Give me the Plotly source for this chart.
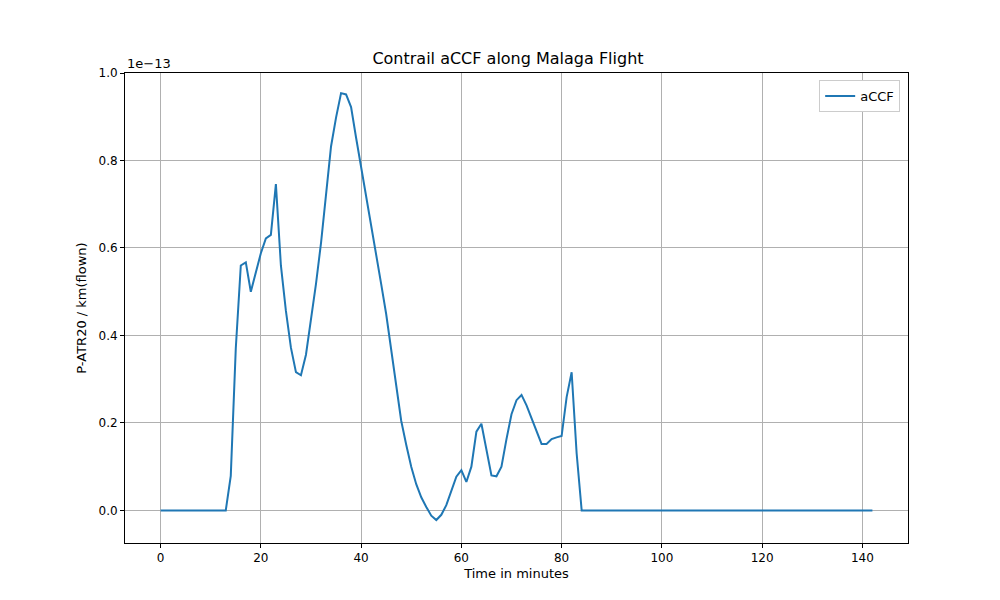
import plotly.graph_objects as go

# aCCF values in units of 1e-13, one per minute
minutes = list(range(0, 143))
accf_head = [0.0] * 13 + [
    0.0, 0.079, 0.37, 0.56, 0.567, 0.50, 0.546, 0.588, 0.622, 0.63,   # 13-22
    0.746, 0.56, 0.456, 0.372, 0.316, 0.309, 0.356, 0.437, 0.518, 0.611,  # 23-32
    0.72, 0.832, 0.898, 0.954, 0.951, 0.922, 0.852, 0.786, 0.72, 0.658,  # 33-42
    0.588, 0.518, 0.449, 0.37, 0.29, 0.205, 0.15, 0.10, 0.06, 0.03,  # 43-52
    0.008, -0.012, -0.022, -0.01, 0.012, 0.046, 0.077, 0.092, 0.065, 0.10,  # 53-62
    0.18, 0.198, 0.14, 0.08, 0.078, 0.10, 0.163, 0.22, 0.252, 0.264,  # 63-72
    0.24, 0.212, 0.18, 0.152, 0.152, 0.163, 0.167, 0.17, 0.259, 0.316,  # 73-82
    0.13, 0.0,  # 83-84
]
accf = accf_head + [0.0] * (len(minutes) - len(accf_head))

fig = go.Figure()
fig.add_trace(go.Scatter(x=minutes, y=accf, mode="lines", name="aCCF",
                         line=dict(color="#1f77b4", width=2)))

axis_common = dict(showline=True, linecolor="black", mirror=True, ticks="outside",
                   ticklen=4, tickcolor="black", showgrid=True, gridcolor="#b0b0b0",
                   zeroline=False, automargin=False, tickfont=dict(size=12, color="black"))
fig.update_layout(
    width=1000, height=600, plot_bgcolor="white", paper_bgcolor="white",
    font=dict(family="DejaVu Sans", color="black"),
    margin=dict(l=117, r=100, t=65, b=65),
    title=dict(text="Contrail aCCF along Malaga Flight", x=0.5, xanchor="center",
               y=0.925, font=dict(size=16)),
    xaxis=dict(range=[-7.1, 149.1], tickvals=list(range(0, 141, 20)),
               title=dict(text="Time in minutes", font=dict(size=13), standoff=4), **axis_common),
    yaxis=dict(range=[-0.0745, 1.0], tickvals=[0, 0.2, 0.4, 0.6, 0.8, 1.0],
               tickformat=".1f",
               title=dict(text="P-ATR20 / km(flown)", font=dict(size=13), standoff=8), **axis_common),
    showlegend=True,
    legend=dict(x=0.99, y=0.985, xanchor="right", yanchor="top", bordercolor="#cccccc",
                borderwidth=1, font=dict(size=13)),
    annotations=[dict(text="1e−13", xref="paper", yref="paper", x=0, y=1.0,
                      xanchor="left", yanchor="bottom", showarrow=False, font=dict(size=13))],
)
fig.write_html("out.html")
